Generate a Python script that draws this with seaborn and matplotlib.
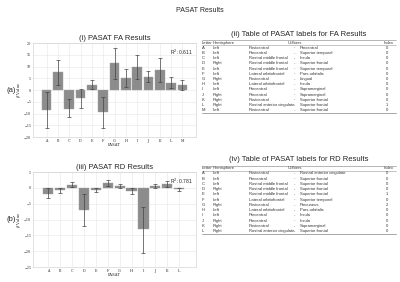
import numpy as np
import pandas as pd
import seaborn as sns
import matplotlib.pyplot as plt

# FA results
fa_letters = list('ABCDEFGHIJKLM')
fa_beta = [-8.5, 7.5, -8.0, -3.5, 2.3, -9.5, 11.5, 5.2, 9.8, 5.6, 8.7, 3.2, 2.0]
fa_lo = [-16.0, 2.0, -11.5, -7.5, 0.3, -16.0, 4.8, 1.5, 4.7, 3.3, 3.5, 1.0, 0.0]
fa_hi = [-1.0, 13.0, -4.0, 0.3, 4.3, -3.0, 18.0, 9.0, 15.0, 8.0, 13.8, 5.4, 4.2]

# RD results
rd_letters = list('ABCDEFGHIJKL')
rd_beta = [-1.9, -0.7, 1.0, -7.0, -0.6, 1.5, 0.7, -1.0, -13.0, 0.6, 1.1, -0.4]
rd_lo = [-3.3, -1.5, 0.2, -12.0, -1.3, 0.5, 0.0, -2.0, -20.5, 0.0, 0.2, -1.0]
rd_hi = [-0.1, 0.0, 1.8, -2.0, 0.0, 2.6, 1.3, -0.1, -5.9, 1.2, 2.2, 0.0]

fa_table = [
    ['A', 'Left', 'Postcentral', 'Precentral', '0'],
    ['B', 'Left', 'Precentral', 'Superior temporal', '0'],
    ['C', 'Left', 'Rostral middle frontal', 'Insula', '0'],
    ['D', 'Right', 'Rostral middle frontal', 'Superior frontal', '0'],
    ['E', 'Left', 'Rostral middle frontal', 'Superior temporal', '0'],
    ['F', 'Left', 'Lateral orbitofrontal', 'Pars orbitalis', '0'],
    ['G', 'Right', 'Postcentral', 'Lingual', '0'],
    ['H', 'Left', 'Lateral orbitofrontal', 'Insula', '0'],
    ['I', 'Left', 'Precentral', 'Supramarginal', '0'],
    ['J', 'Right', 'Precentral', 'Supramarginal', '0'],
    ['K', 'Right', 'Postcentral', 'Superior frontal', '0'],
    ['L', 'Right', 'Rostral anterior cingulate', 'Superior frontal', '1'],
    ['M', 'Left', 'Postcentral', 'Superior frontal', '0'],
]
rd_table = [
    ['A', 'Left', 'Postcentral', 'Rostral anterior cingulate', '0'],
    ['B', 'Left', 'Precentral', 'Superior frontal', '0'],
    ['C', 'Left', 'Rostral middle frontal', 'Superior frontal', '0'],
    ['D', 'Right', 'Rostral middle frontal', 'Superior frontal', '0'],
    ['E', 'Left', 'Rostral middle frontal', 'Superior frontal', '1'],
    ['F', 'Left', 'Lateral orbitofrontal', 'Superior temporal', '0'],
    ['G', 'Right', 'Postcentral', 'Precuneus', '2'],
    ['H', 'Left', 'Lateral orbitofrontal', 'Pars orbitalis', '0'],
    ['I', 'Left', 'Precentral', 'Insula', '0'],
    ['J', 'Right', 'Precentral', 'Insula', '0'],
    ['K', 'Right', 'Postcentral', 'Supramarginal', '0'],
    ['L', 'Right', 'Rostral anterior cingulate', 'Superior frontal', '0'],
]

sns.set_style('whitegrid', {'grid.color': '#e6e6e6', 'axes.edgecolor': '#cccccc'})
plt.rcParams['font.family'] = ['Liberation Sans', 'DejaVu Sans']

fig = plt.figure(figsize=(4, 2.82), dpi=100)
fig.text(0.5, 0.962, 'PASAT Results', ha='center', va='center', fontsize=5)


def bar_panel(rect, letters, beta, lo, hi, ylim, xlim, ticks, title, r2):
    ax = fig.add_axes(rect)
    df = pd.DataFrame({'PASAT': letters, 'beta': beta})
    sns.barplot(data=df, x='PASAT', y='beta', color='#8c8c8c', saturation=1,
                edgecolor='#a0a0a0', linewidth=0.3, width=0.85, ax=ax)
    b = np.array(beta)
    yerr = [b - np.array(lo), np.array(hi) - b]
    ax.errorbar(np.arange(len(letters)), b, yerr=yerr, fmt='none',
                ecolor='#444444', elinewidth=0.5, capsize=1.3, capthick=0.5)
    ax.set_ylim(*ylim)
    ax.set_yticks(ticks)
    ax.set_xlim(*xlim)
    ax.grid(True, linewidth=0.4)
    ax.tick_params(length=0, pad=1.2, labelsize=2.4)
    for lab in ax.get_xticklabels() + ax.get_yticklabels():
        lab.set_family('DejaVu Serif')
    ax.set_xlabel('PASAT', fontsize=2.8, family='DejaVu Serif', labelpad=0.5)
    ax.set_ylabel(r'$\beta$ Value', fontsize=2.8, family='DejaVu Serif', labelpad=0.5)
    for s in ax.spines.values():
        s.set_linewidth(0.4)
    ax.set_title(title, fontsize=5.5, pad=2)
    ax.text(0.985, 0.955, r2, transform=ax.transAxes, ha='right', va='top', fontsize=3.6)
    return ax


bar_panel([0.0825, 0.514, 0.4075, 0.333], fa_letters, fa_beta, fa_lo, fa_hi,
          (-20, 20), (-1.2, 13.2), np.arange(-20, 21, 5),
          '(i) PASAT FA Results', 'R$^2$: 0.611')
bar_panel([0.0825, 0.053, 0.4075, 0.337], rd_letters, rd_beta, rd_lo, rd_hi,
          (-25, 5), (-1.25, 12.4), np.arange(-25, 6, 5),
          '(iii) PASAT RD Results', 'R$^2$: 0.781')

fig.text(0.028, 0.68, '(a)', ha='center', va='center', fontsize=5.5)
fig.text(0.028, 0.22, '(b)', ha='center', va='center', fontsize=5.5)


def table_panel(rect, rows, title, title_y):
    ax = fig.add_axes(rect)
    ax.axis('off')
    n = len(rows)
    ax.set_xlim(0, 1)
    ax.set_ylim(n + 0.55, -0.5)
    cols = [0.0, 0.057, 0.242, 0.505, 0.948]
    heads = [('Letter', 0.0, 'left'), ('Hemisphere', 0.057, 'left'),
             ('U-fibers', 0.443, 'left'), ('Index', 0.935, 'left')]
    fs = 3.0
    for txt, x, ha in heads:
        ax.text(x, 0, txt, ha=ha, va='center', fontsize=fs, color='#333333')
    for i, r in enumerate(rows, start=1):
        for j, x in enumerate(cols):
            ax.text(x, i, r[j], ha='left', va='center', fontsize=fs, color='#333333')
        ax.text(0.474, i, '-', ha='left', va='center', fontsize=fs, color='#333333')
    for y, lw in [(-0.5, 0.5), (0.5, 0.4), (n + 0.5, 0.6)]:
        ax.plot([0, 1], [y, y], color='#999999', linewidth=lw, clip_on=False)
    fig.text(rect[0] + rect[2] / 2, title_y, title, ha='center', va='center', fontsize=5.5)


table_panel([0.505, 0.599, 0.485, 0.259], fa_table,
            '(ii) Table of PASAT labels for FA Results', 0.878)
table_panel([0.505, 0.17, 0.485, 0.243], rd_table,
            '(iv) Table of PASAT labels for RD Results', 0.436)

plt.savefig('out.png', dpi=100)
